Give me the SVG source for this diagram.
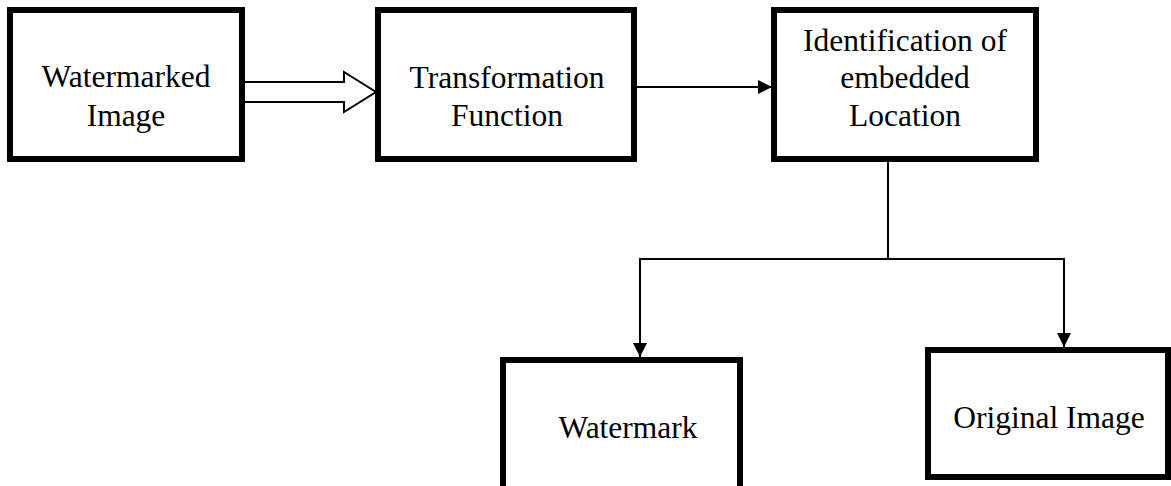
<svg xmlns="http://www.w3.org/2000/svg" width="1171" height="486" viewBox="0 0 1171 486">
<defs>
<style>
.box{fill:#fff;stroke:#000;stroke-width:6}
.lbl{font-family:"Liberation Serif","Times New Roman",serif;font-size:31.5px;fill:#000;text-anchor:middle}
.con{fill:none;stroke:#000;stroke-width:2}
</style>
<marker id="ah" markerWidth="14" markerHeight="14" refX="14" refY="7" orient="auto" markerUnits="userSpaceOnUse">
<path d="M0,0 L14,7 L0,14 Z" fill="#000"/>
</marker>
</defs>
<rect width="1171" height="486" fill="#fff"/>
<g id="connectors">
<path class="con" d="M245,82 L344,82 L344,72 L376,92 L344,112 L344,102 L245,102" fill="#fff"/>
<line class="con" x1="637" y1="87" x2="772" y2="87" marker-end="url(#ah)"/>
<polyline class="con" points="888,162 888,259 640,259 640,357" marker-end="url(#ah)"/>
<polyline class="con" points="888,259 1064,259 1064,347" marker-end="url(#ah)"/>
</g>
<g id="n1">
<rect class="box" x="10" y="10" width="232" height="149"/>
<text class="lbl" x="126" y="87">Watermarked</text>
<text class="lbl" x="126" y="126">Image</text>
</g>
<g id="n2">
<rect class="box" x="378" y="10" width="256" height="149"/>
<text class="lbl" x="507" y="88">Transformation</text>
<text class="lbl" x="507" y="126">Function</text>
</g>
<g id="n3">
<rect class="box" x="774" y="10" width="262" height="149"/>
<text class="lbl" x="905" y="51">Identification of</text>
<text class="lbl" x="905" y="88">embedded</text>
<text class="lbl" x="905" y="126">Location</text>
</g>
<g id="n4">
<rect class="box" x="503" y="360" width="237" height="140"/>
<text class="lbl" x="628" y="438">Watermark</text>
</g>
<g id="n5">
<rect class="box" x="928" y="350" width="240" height="127"/>
<text class="lbl" x="1049" y="428">Original Image</text>
</g>
</svg>
